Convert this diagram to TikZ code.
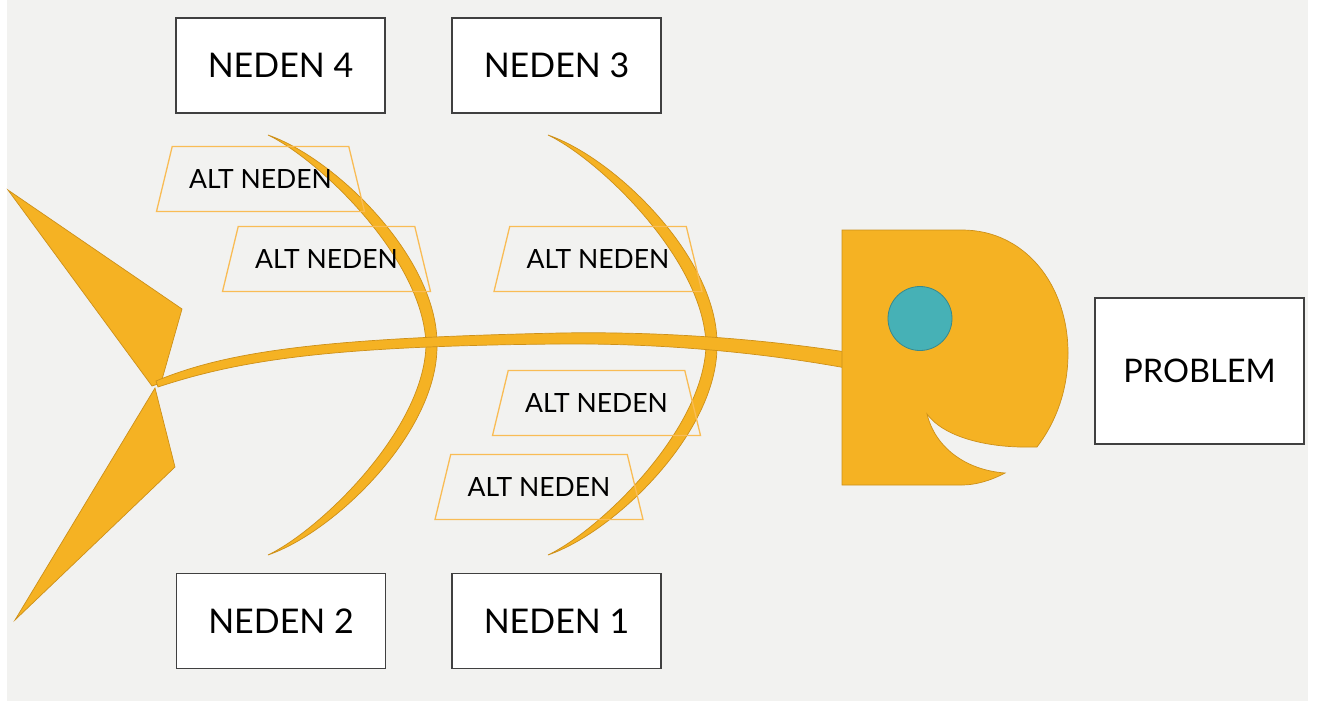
\documentclass[tikz,border=0pt]{standalone}
\usepackage{fontspec}
\setmainfont{Lato}
\usetikzlibrary{shapes.geometric}
\definecolor{backdrop}{HTML}{F2F2F0}
\definecolor{fishbody}{HTML}{F5B223}
\definecolor{fishedge}{HTML}{CD9019}
\definecolor{eyeteal}{HTML}{46B1B6}
\definecolor{eyeedge}{HTML}{37898E}
\definecolor{altedge}{HTML}{F9BC55}
\begin{document}
\begin{tikzpicture}[x=1pt,y=-1pt,
    cause/.style={draw=black!75,line width=1.4pt,fill=white,minimum width=209pt,minimum height=95pt,font=\fontsize{34}{40}\selectfont},
    subcause/.style={trapezium,trapezium stretches body=true,trapezium angle=76.4,draw=altedge,line width=1.3pt,minimum width=208pt,inner xsep=0pt,inner ysep=23pt,font=\fontsize{26.5}{30}\selectfont},
    bone/.style={fill=fishbody,draw=fishedge,line width=0.7pt}]
    \useasboundingbox (0,0) rectangle (1320,706);
    \fill[backdrop] (7,0) rectangle (1308,701);
    \draw[bone] (8,190) -- (182,309) -- (161,383) -- (152,386) -- cycle;
    \draw[bone] (155,388) -- (175,467) -- (15,620) -- cycle;
    \draw[bone] (268,135) .. controls (335,158) and (438,258) .. (437,345) .. controls (438,432) and (335,532) .. (268,555)
        .. controls (320,530) and (424,430) .. (426,345) .. controls (424,260) and (320,160) .. (268,135) -- cycle;
    \draw[bone,xshift=280pt] (268,135) .. controls (335,158) and (438,258) .. (437,345) .. controls (438,432) and (335,532) .. (268,555)
        .. controls (320,530) and (424,430) .. (426,345) .. controls (424,260) and (320,160) .. (268,135) -- cycle;
    \draw[bone] (156,381) .. controls (230,350) and (330,338) .. (560,333) .. controls (680,331) and (780,342) .. (846,352)
        -- (846,368) .. controls (780,356) and (680,343) .. (560,344) .. controls (330,346) and (240,360) .. (158,387) -- cycle;
    \draw[bone] (842,230) -- (962,230) .. controls (1025,230) and (1068,285) .. (1068,353) .. controls (1068,390) and (1056,422) .. (1037,447)
        -- (1020,447) .. controls (980,446) and (942,435) .. (927,414) .. controls (935,447) and (965,470) .. (1005,473)
        .. controls (990,481) and (975,485) .. (962,485) -- (842,485) -- cycle;
    \draw[fill=eyeteal,draw=eyeedge,line width=0.8pt] (920,318.5) circle (32pt);
    \node[subcause] (alt4a) at (260.5,179) {ALT NEDEN};
    \node[subcause] (alt4b) at (326.5,259) {ALT NEDEN};
    \node[subcause] (alt3a) at (598,259) {ALT NEDEN};
    \node[subcause] (alt1a) at (596.5,403) {ALT NEDEN};
    \node[subcause] (alt1b) at (539,487) {ALT NEDEN};
    \node[cause] (neden4) at (280.5,65.5) {NEDEN 4};
    \node[cause] (neden3) at (556.5,65.5) {NEDEN 3};
    \node[cause] (neden2) at (281,621) {NEDEN 2};
    \node[cause] (neden1) at (556.5,621) {NEDEN 1};
    \node[cause,minimum height=146pt,font=\fontsize{32.5}{40}\selectfont] (problem) at (1199.5,371) {PROBLEM};
\end{tikzpicture}
\end{document}
